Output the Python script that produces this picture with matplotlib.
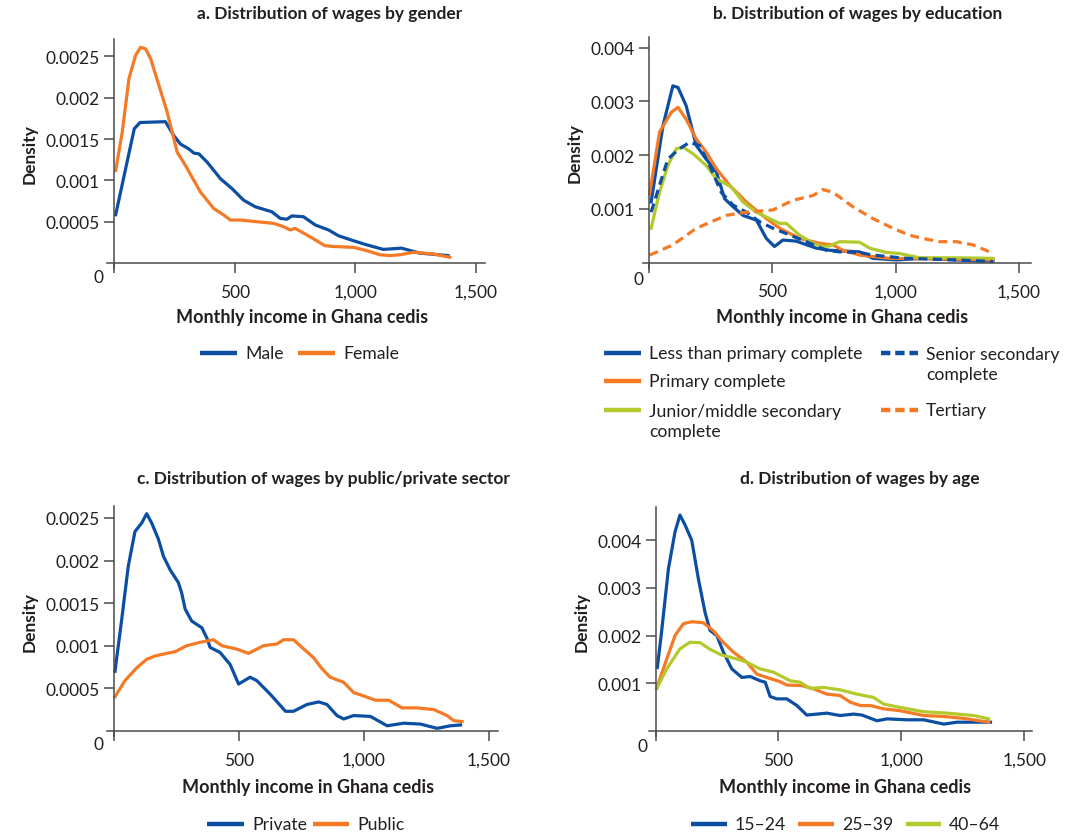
import numpy as np
import matplotlib
matplotlib.use("Agg")
import matplotlib.pyplot as plt
from matplotlib.lines import Line2D

plt.rcParams['font.family'] = ['Lato', 'DejaVu Sans']

BLUE = '#0b4ea2'
ORANGE = '#f47a26'
GREEN = '#b4c92c'
AXC = '#4a4a4a'
TXT = '#231f20'

# a. wages by gender
male_x = [7, 84, 108, 213, 248, 275, 310, 331, 352, 386, 441, 489, 537, 586, 654, 689, 716, 737,
          785, 834, 889, 930, 992, 1047, 1116, 1191, 1267, 1384]
male_y = [0.000585, 0.001625, 0.0017, 0.00171, 0.00154, 0.00144, 0.00138, 0.00133, 0.00132, 0.00122,
          0.00102, 0.0009, 0.00076, 0.00068, 0.00062, 0.00054, 0.00053, 0.00057, 0.00056, 0.00046,
          0.0004, 0.00033, 0.00027, 0.00022, 0.000165, 0.00018, 0.00012, 0.00009]
female_x = [7, 34, 62, 89, 110, 131, 152, 186, 220, 262, 296, 358, 413, 455, 482, 523, 592, 661,
            702, 730, 750, 799, 874, 909, 992, 1047, 1102, 1143, 1185, 1240, 1322, 1391]
female_y = [0.00112, 0.00158, 0.00223, 0.00251, 0.00261, 0.00259, 0.00247, 0.00215, 0.00183, 0.00134,
            0.00118, 0.00086, 0.00066, 0.00058, 0.00052, 0.00052, 0.0005, 0.00048, 0.00044, 0.0004,
            0.00042, 0.00034, 0.00021, 0.0002, 0.00019, 0.00015, 0.0001, 0.00009, 0.0001, 0.00013,
            0.00011, 0.00007]

# b. wages by education
lessprim_x = [9, 57, 97, 118, 151, 192, 232, 273, 307, 334, 381, 436, 476, 509, 543, 597, 678, 732,
              854, 908, 1003, 1111, 1246, 1395]
lessprim_y = [0.00113, 0.00255, 0.00329, 0.00326, 0.00292, 0.00218, 0.00193, 0.00169, 0.00119, 0.00107,
              0.00088, 0.00079, 0.00045, 0.0003, 0.00042, 0.0004, 0.00027, 0.00023, 0.0002, 0.00008,
              0.00005, 0.00008, 0.00005, 0.00003]
prim_x = [3, 43, 91, 118, 151, 192, 232, 273, 327, 395, 476, 530, 611, 692, 746, 786, 854, 976, 1178, 1395]
prim_y = [0.00128, 0.00243, 0.0028, 0.00289, 0.00267, 0.0023, 0.00206, 0.00175, 0.00144, 0.00113,
          0.00082, 0.00064, 0.00045, 0.00036, 0.00033, 0.00023, 0.00014, 0.00008, 0.00007, 0.00005]
junior_x = [9, 43, 77, 111, 138, 178, 232, 273, 334, 381, 435, 489, 530, 557, 611, 665, 705, 732, 773,
            854, 895, 962, 1016, 1097, 1246, 1395]
junior_y = [0.00064, 0.00131, 0.00181, 0.00212, 0.00215, 0.00203, 0.00181, 0.00156, 0.00141, 0.00113,
            0.00094, 0.00082, 0.00073, 0.00073, 0.00051, 0.00036, 0.0003, 0.00031, 0.00039, 0.00038,
            0.00027, 0.00019, 0.00017, 0.00009, 0.00009, 0.00008]
senior_x = [9, 43, 77, 124, 165, 205, 246, 293, 341, 395, 449, 503, 557, 638, 719, 773, 854, 908,
            1043, 1246, 1395]
senior_y = [0.00094, 0.00144, 0.00193, 0.00212, 0.00224, 0.00218, 0.00181, 0.00131, 0.00107, 0.00094,
            0.00076, 0.00064, 0.00054, 0.00039, 0.00023, 0.0002, 0.00019, 0.00014, 0.00008, 0.00005,
            0.00002]
tert_x = [3, 97, 192, 314, 395, 503, 584, 665, 705, 746, 827, 908, 989, 1057, 1111, 1178, 1246, 1314, 1381]
tert_y = [0.00014, 0.00033, 0.00064, 0.00088, 0.00094, 0.00098, 0.00116, 0.00125, 0.00136, 0.00131,
          0.00104, 0.00082, 0.00064, 0.00051, 0.00045, 0.00039, 0.00039, 0.00033, 0.0002]

# c. wages by sector
private_x = [4, 31, 57, 84, 111, 131, 151, 178, 198, 225, 258, 271, 285, 311, 352, 372, 385, 425, 465,
             499, 545, 572, 626, 687, 719, 773, 820, 853, 893, 920, 960, 1027, 1094, 1160, 1227, 1294,
             1348, 1388]
private_y = [0.0007, 0.00131, 0.00193, 0.00234, 0.00244, 0.00255, 0.00244, 0.00225, 0.00205, 0.00189,
             0.00174, 0.00162, 0.00143, 0.00129, 0.00121, 0.00109, 0.00098, 0.00092, 0.00078, 0.00055,
             0.00063, 0.00059, 0.00043, 0.00023, 0.00023, 0.00031, 0.00034, 0.00031, 0.00018, 0.00014,
             0.00018, 0.00017, 0.00006, 0.00009, 0.00008, 0.00003, 0.00006, 0.00007]
public_x = [4, 44, 91, 131, 165, 211, 245, 291, 345, 398, 432, 492, 539, 599, 652, 679, 719, 753, 799,
            833, 866, 920, 960, 1000, 1047, 1100, 1154, 1214, 1281, 1334, 1361, 1394]
public_y = [0.0004, 0.00059, 0.00074, 0.00084, 0.00088, 0.00091, 0.00093, 0.001, 0.00104, 0.00107,
            0.001, 0.00096, 0.00091, 0.001, 0.00102, 0.00107, 0.00107, 0.00098, 0.00086, 0.00073,
            0.00063, 0.00057, 0.00045, 0.00041, 0.00036, 0.00036, 0.00027, 0.00027, 0.00025, 0.00018,
            0.00012, 0.00011]

# d. wages by age
age1_x = [7, 24, 52, 79, 99, 120, 147, 174, 201, 221, 249, 276, 310, 351, 385, 425, 446, 466, 493, 534,
          575, 615, 656, 697, 751, 806, 840, 901, 942, 1023, 1091, 1173, 1227, 1363]
age1_y = [0.00133, 0.00207, 0.0034, 0.00418, 0.00453, 0.00432, 0.004, 0.00319, 0.00249, 0.00211, 0.002,
          0.00165, 0.0013, 0.00112, 0.00114, 0.00105, 0.00102, 0.00072, 0.00067, 0.00067, 0.00053,
          0.00033, 0.00035, 0.00037, 0.00032, 0.00035, 0.00033, 0.00021, 0.00025, 0.00023, 0.00023,
          0.00014, 0.00018, 0.00018]
age2_x = [4, 38, 79, 113, 147, 194, 235, 269, 317, 371, 412, 452, 507, 534, 595, 643, 697, 751, 792, 833,
          874, 928, 996, 1091, 1173, 1254, 1356]
age2_y = [0.00089, 0.0014, 0.002, 0.00225, 0.00229, 0.00227, 0.0021, 0.00189, 0.00165, 0.00144, 0.00119,
          0.00112, 0.00103, 0.00096, 0.00095, 0.00088, 0.00077, 0.00074, 0.0006, 0.00053, 0.00053,
          0.00046, 0.00042, 0.00032, 0.0003, 0.00026, 0.00018]
age3_x = [7, 45, 99, 140, 181, 222, 269, 330, 371, 425, 480, 548, 588, 629, 683, 751, 819, 887, 928, 996,
          1091, 1186, 1295, 1356]
age3_y = [0.00091, 0.0013, 0.00172, 0.00186, 0.00185, 0.00171, 0.00159, 0.00151, 0.00144, 0.0013,
          0.00123, 0.00105, 0.00102, 0.00089, 0.00091, 0.00086, 0.00077, 0.0007, 0.00056, 0.00049,
          0.0004, 0.00037, 0.00032, 0.00025]

W, H = 1071, 837
fig = plt.figure(figsize=(W / 100, H / 100), dpi=100)


def px_axes(x0, y0, x1, y1):
    return fig.add_axes([x0 / W, 1 - y1 / H, (x1 - x0) / W, (y1 - y0) / H])


def style(ax, xlim, ylim, yticks, ylabels, title, tpos, xlab_pos, zero_pos):
    ax.set_xlim(*xlim)
    ax.set_ylim(*ylim)
    for s in ['top', 'right']:
        ax.spines[s].set_visible(False)
    ax.spines['left'].set_position(('data', 0))
    ax.spines['bottom'].set_position(('data', 0))
    for s in ['left', 'bottom']:
        ax.spines[s].set_color(AXC)
        ax.spines[s].set_linewidth(1.1)
    ax.set_xticks([0, 500, 1000, 1500])
    ax.set_xticklabels(['', '500', '1,000', '1,500'])
    ax.set_yticks(yticks)
    ax.set_yticklabels(ylabels)
    ax.tick_params(axis='both', colors=AXC, length=7, width=1.1, labelsize=12.5,
                   labelcolor=TXT)
    ax.tick_params(axis='x', pad=8)
    ax.tick_params(axis='y', pad=3)
    ax.set_ylabel('Density', fontsize=12.5, fontweight='bold', color=TXT, labelpad=6)
    fig.text(tpos[0] / W, 1 - tpos[1] / H, title, ha='center', va='center',
             fontsize=12.5, fontweight='bold', color=TXT)
    fig.text(xlab_pos[0] / W, 1 - xlab_pos[1] / H, 'Monthly income in Ghana cedis',
             ha='center', va='center', fontsize=13, fontweight='bold', color=TXT)
    fig.text(zero_pos[0] / W, 1 - zero_pos[1] / H, '0', ha='center', va='center',
             fontsize=12.5, color=TXT)


def legend_entry(x0, x1, y, label, color, ls='-'):
    dashed = ls == '--'
    fig.add_artist(Line2D([x0 / W, x1 / W], [1 - y / H, 1 - y / H], color=color, lw=3.2,
                          linestyle=ls, dashes=(2.1, 1.1) if dashed else (None, None),
                          solid_capstyle='butt', dash_capstyle='butt'))
    nlines = label.count('\n') + 1
    yc = y + (nlines - 1) * 11
    fig.text((x1 + 8) / W, 1 - yc / H, label, ha='left', va='center',
             fontsize=12.7, color=TXT, linespacing=1.32)


LW = 2.3

# panel a
ax = px_axes(107, 40, 485, 269)
ax.plot(male_x, male_y, color=BLUE, lw=LW)
ax.plot(female_x, female_y, color=ORANGE, lw=LW)
style(ax, (-29, 1537), (-0.00006, 0.00271), [0.0005, 0.001, 0.0015, 0.002, 0.0025],
      ['0.0005', '0.001', '0.0015', '0.002', '0.0025'],
      'a. Distribution of wages by gender', (330, 14), (302, 318), (98, 278))
legend_entry(200, 237, 354, 'Male', BLUE)
legend_entry(298, 335, 354, 'Female', ORANGE)

# panel b
ax = px_axes(643, 38, 1031, 269)
ax.plot(lessprim_x, lessprim_y, color=BLUE, lw=LW)
ax.plot(prim_x, prim_y, color=ORANGE, lw=LW)
ax.plot(junior_x, junior_y, color=GREEN, lw=LW)
ax.plot(senior_x, senior_y, color=BLUE, lw=LW, linestyle='--', dashes=(2.8, 1.7))
ax.plot(tert_x, tert_y, color=ORANGE, lw=LW, linestyle='--', dashes=(2.8, 1.7))
style(ax, (-24, 1549), (-0.0001, 0.0042), [0.001, 0.002, 0.003, 0.004],
      ['0.001', '0.002', '0.003', '0.004'],
      'b. Distribution of wages by education', (858, 14), (842, 318), (638, 280))
legend_entry(604, 641, 354, 'Less than primary complete', BLUE)
legend_entry(604, 641, 382, 'Primary complete', ORANGE)
legend_entry(604, 641, 411, 'Junior/middle secondary\ncomplete', GREEN)
legend_entry(881, 918, 354, 'Senior secondary\ncomplete', BLUE, '--')
legend_entry(881, 918, 411, 'Tertiary', ORANGE, '--')

# panel c
ax = px_axes(107, 507, 498, 737)
ax.plot(private_x, private_y, color=BLUE, lw=LW)
ax.plot(public_x, public_y, color=ORANGE, lw=LW)
style(ax, (-28, 1538), (-0.00006, 0.00264), [0.0005, 0.001, 0.0015, 0.002, 0.0025],
      ['0.0005', '0.001', '0.0015', '0.002', '0.0025'],
      'c. Distribution of wages by public/private sector', (323, 479), (308, 788), (99, 745))
legend_entry(207, 244, 825, 'Private', BLUE)
legend_entry(313, 349, 825, 'Public', ORANGE)

# panel d
ax = px_axes(649, 508, 1032, 737)
ax.plot(age1_x, age1_y, color=BLUE, lw=LW)
ax.plot(age2_x, age2_y, color=ORANGE, lw=LW)
ax.plot(age3_x, age3_y, color=GREEN, lw=LW)
style(ax, (-27, 1532), (-0.00011, 0.0047), [0.001, 0.002, 0.003, 0.004],
      ['0.001', '0.002', '0.003', '0.004'],
      'd. Distribution of wages by age', (860, 479), (845, 788), (643, 747))
legend_entry(691, 727, 825, '15\u201324', BLUE)
legend_entry(798, 834, 825, '25\u201339', ORANGE)
legend_entry(906, 941, 825, '40\u201364', GREEN)

fig.savefig('out.png', dpi=100, facecolor='white')
